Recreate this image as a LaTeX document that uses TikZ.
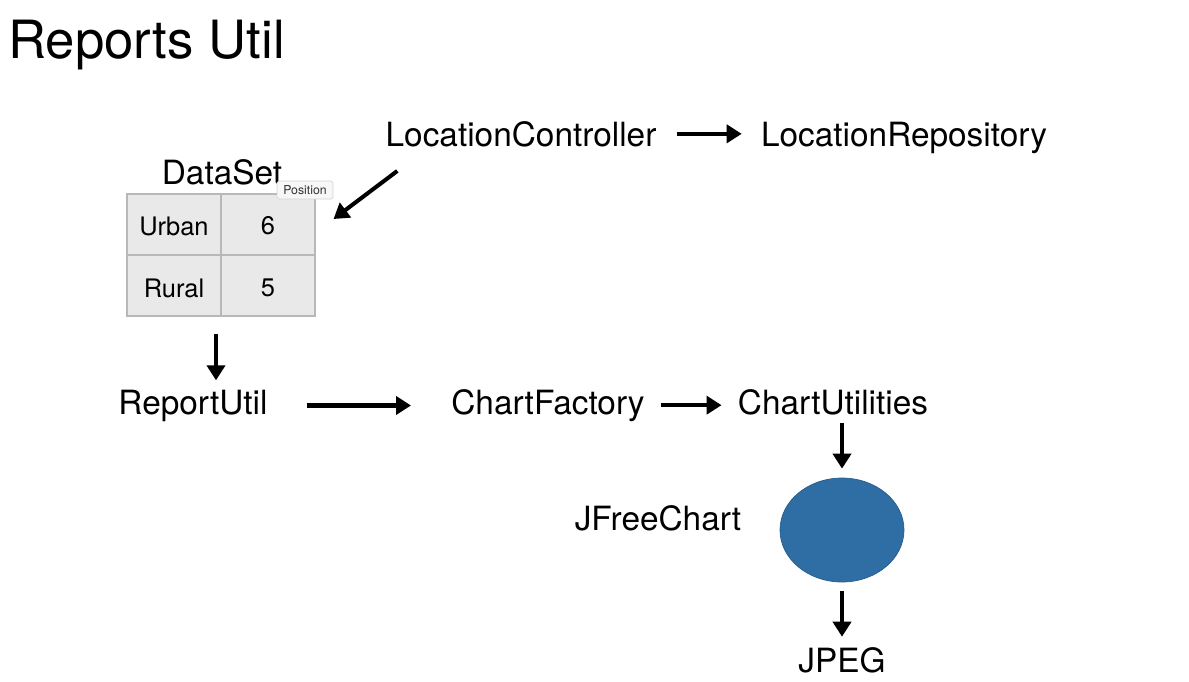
\documentclass[tikz,border=0pt]{standalone}
\usepackage{fontspec}
\setmainfont{TeX Gyre Heros}
\usepackage{tikz}
\usetikzlibrary{calc, positioning, arrows.meta, shapes.geometric}
\usepackage{xcolor}
\definecolor{cellFill}{RGB}{233, 233, 233}
\definecolor{cellLine}{RGB}{184, 184, 184}
\definecolor{blobBlue}{RGB}{46, 110, 164}
\definecolor{tipFill}{RGB}{247, 247, 247}
\definecolor{tipLine}{RGB}{212, 212, 212}

\begin{document}
\begin{tikzpicture}[x=0.02cm, y=-0.02cm,
    label/.style={inner sep=0pt, anchor=base, font=\fontsize{19}{23}\selectfont},
    cell/.style={inner sep=0pt, font=\fontsize{14.5}{17}\selectfont},
    arr/.style={-{Triangle[length=0.3cm, width=0.36cm]}, line width=2.3pt}]
  \useasboundingbox[fill=white] (0,0) rectangle (1189,681);

  % title
  \node[inner sep=0pt, anchor=base west, font=\fontsize{30}{36}\selectfont] (title) at (8,58) {Reports Util};

  % top row
  \node[label] (lc) at (521,146) {LocationController};
  \node[label] (lr) at (904,146) {LocationRepository};

  % data set table
  \node[label] (ds) at (222,184) {DataSet};
  \node[draw=cellLine, fill=cellFill, line width=0.6pt, minimum width=3.76cm, minimum height=2.44cm, inner sep=0pt] (tbl) at (221,255) {};
  \draw[cellLine, line width=0.6pt] (tbl.north) -- (tbl.south);
  \draw[cellLine, line width=0.6pt] (tbl.west) -- (tbl.east);
  \node[cell] (urban) at (174,226) {Urban};
  \node[cell] (urbanval) at (268,226) {6};
  \node[cell] (rural) at (174,288) {Rural};
  \node[cell] (ruralval) at (268,288) {5};
  \node[draw=tipLine, fill=tipFill, rounded corners=1pt, line width=0.4pt, minimum width=1.12cm, minimum height=0.36cm, inner sep=0pt, font=\fontsize{7}{8}\selectfont, text=black!80] (tip) at (305,190) {Position};

  % middle row
  \node[label] (ru) at (193,414) {ReportUtil};
  \node[label] (cf) at (548,414) {ChartFactory};
  \node[label] (cu) at (833,414) {ChartUtilities};

  % chart and output
  \node[ellipse, fill=blobBlue, draw=blobBlue!85!black, line width=0.4pt, minimum width=2.48cm, minimum height=2.08cm, inner sep=0pt] (blob) at (842,530) {};
  \node[label] (jfc) at (658,530) {JFreeChart};
  \node[label] (jpeg) at (842,672) {JPEG};

  % arrows
  \draw[arr, shorten <=0.4cm, shorten >=0.38cm] (lc.east) -- (lr.west |- lc.east);
  \draw[arr] ([shift={(0.24cm,-0.48cm)}]lc.south west) -- ([shift={(0.36cm,0.72cm)}]tbl.east);
  \draw[arr, shorten <=0.34cm, shorten >=0.18cm] ([xshift=-0.1cm]tbl.south) -- ([xshift=-0.1cm]tbl.south |- ru.north);
  \draw[arr, shorten <=0.78cm, shorten >=0.8cm] (ru.east) -- (cf.west |- ru.east);
  \draw[arr, shorten <=0.32cm, shorten >=0.32cm] (cf.east) -- (cu.west |- cf.east);
  \draw[arr, shorten <=0.16cm, shorten >=0.18cm] (cu.south -| blob.north) -- (blob.north);
  \draw[arr, shorten <=0.18cm, shorten >=0.2cm] (blob.south) -- (jpeg.north);
\end{tikzpicture}
\end{document}
